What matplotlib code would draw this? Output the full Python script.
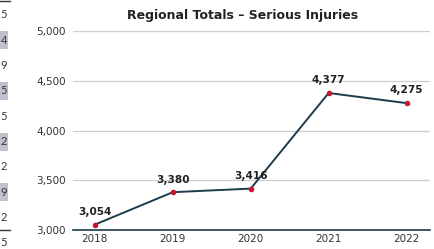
import matplotlib
matplotlib.use("Agg")
import matplotlib.pyplot as plt
from matplotlib.patches import Rectangle

# chart data
years = ["2018", "2019", "2020", "2021", "2022"]
injuries = [3054, 3380, 3416, 4377, 4275]
y_ticks = [3000, 3500, 4000, 4500, 5000]

# clipped column of a neighbouring table on the left edge
side_digits = ["5", "4", "9", "5", "5", "2", "2", "9", "2", "5"]
side_shaded = [False, True, False, True, False, True, False, True, False, False]

line_col = "#1e3b4c"
dot_col = "#c8162e"
font = "DejaVu Sans"

fig = plt.figure(figsize=(4.34, 2.49), dpi=100)
W, H = 434.0, 249.0
ax = fig.add_axes([73 / W, 1 - 230 / H, (430 - 73) / W, (230 - 31) / H])

x = list(range(len(years)))
ax.plot(x, injuries, color=line_col, lw=1.4, zorder=3)
ax.scatter(x, injuries, color=dot_col, s=16, zorder=4, linewidths=0)
for xi, v in zip(x, injuries):
    ax.annotate("{:,}".format(v), (xi, v), xytext=(0, 5.5), textcoords="offset points",
                ha="center", va="bottom", fontsize=7.6, fontweight="heavy",
                family=font, color="#222222")

ax.set_xlim(-0.28, 4.3)
ax.set_ylim(3000, 5000)
ax.set_yticks(y_ticks)
ax.set_yticklabels(["{:,}".format(t) for t in y_ticks])
ax.set_xticks(x)
ax.set_xticklabels(years)
ax.grid(axis="y", color="#cfcfcf", lw=0.9)
ax.set_axisbelow(True)
for s in ["top", "right", "left"]:
    ax.spines[s].set_visible(False)
ax.spines["bottom"].set_color(line_col)
ax.spines["bottom"].set_linewidth(1.2)
ax.tick_params(axis="both", length=0, labelsize=7.5, colors="#333333")
ax.tick_params(axis="y", pad=5)
ax.tick_params(axis="x", pad=3)
for lab in ax.get_xticklabels() + ax.get_yticklabels():
    lab.set_family(font)

fig.text(243 / W, 1 - 15 / H, "Regional Totals \u2013 Serious Injuries", ha="center", va="center",
         fontsize=9, fontweight="bold", family=font, color="#222222")

# left-edge table fragment
fig.add_artist(plt.Line2D([0, 10 / W], [1 - 1 / H, 1 - 1 / H], color="#333333", lw=1))
for i, (d, sh) in enumerate(zip(side_digits, side_shaded)):
    yc = 15 + i * 25.3
    if sh:
        fig.add_artist(Rectangle((0, 1 - (yc + 9) / H), 8 / W, 18 / H, color="#bfc2cc", lw=0))
    fig.text(7 / W, 1 - yc / H, d, ha="right", va="center", fontsize=8, family="Lato", color="#333333")
fig.add_artist(plt.Line2D([0, 10 / W], [1 - 230 / H, 1 - 230 / H], color="#333333", lw=1))

fig.savefig("out.png", dpi=100)
